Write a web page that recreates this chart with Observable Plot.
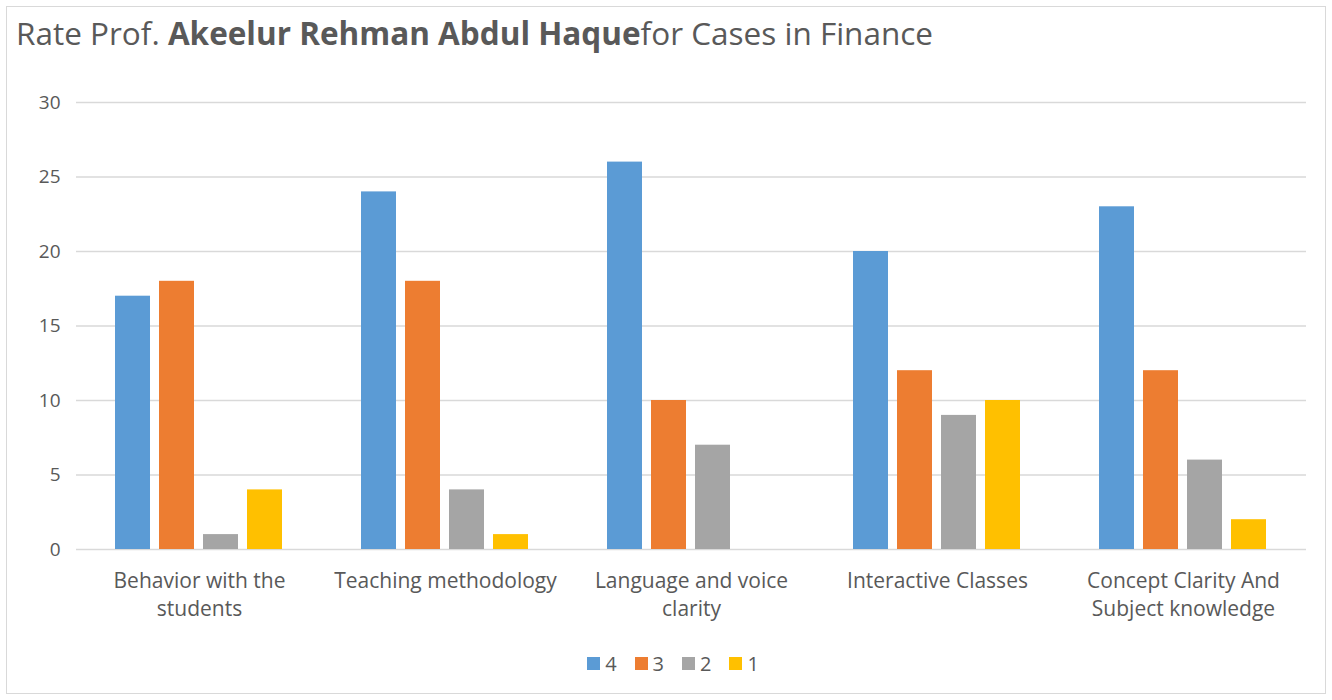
<!DOCTYPE html>
<html>
<head>
<meta charset="utf-8">
<script src="https://cdn.jsdelivr.net/npm/d3@7"></script>
<script src="https://cdn.jsdelivr.net/npm/@observablehq/plot@0.6"></script>
<style>
  html, body { margin: 0; padding: 0; background: #fff; }
  body { width: 1332px; height: 700px; position: relative; overflow: hidden; font-family: "Open Sans", sans-serif; color: #595959; }
  #frame { position: absolute; left: 6px; top: 6px; width: 1318px; height: 686px; border: 1.5px solid #d9d9d9; pointer-events: none; }
  #title { position: absolute; left: 16px; top: 14px; font-size: 31.5px; letter-spacing: 0px; white-space: pre; color: #595959; line-height: 1.2; }
  #title b { font-weight: 700; }
  #chart { position: absolute; left: 0; top: 70px; }
  #legend { position: absolute; left: 0; top: 650px; width: 1332px; display: flex; justify-content: center; align-items: center; gap: 18px; font-size: 20px; color: #595959; padding-left: 14px; box-sizing: border-box; }
  #legend span.item { display: flex; align-items: center; gap: 5px; }
  #legend span.sw { width: 13px; height: 13px; display: inline-block; }
</style>
</head>
<body>
<div id="title">Rate Prof. <b>Akeelur Rehman Abdul Haque</b>for Cases in Finance</div>
<div id="chart"></div>
<div id="legend"></div>
<div id="frame"></div>
<script>
const categories = ["Behavior with the students", "Teaching methodology", "Language and voice clarity", "Interactive Classes", "Concept Clarity And Subject knowledge"];
const categoryLabels = ["Behavior with the\nstudents", "Teaching methodology", "Language and voice\nclarity", "Interactive Classes", "Concept Clarity And\nSubject knowledge"];
const ratings = ["4", "3", "2", "1"];
const values4 = [17, 24, 26, 20, 23];
const values3 = [18, 18, 10, 12, 12];
const values2 = [1, 4, 7, 9, 6];
const values1 = [4, 1, 0, 10, 2];
const yTicks = [0, 5, 10, 15, 20, 25, 30];
const colors = ["#5B9BD5", "#ED7D31", "#A5A5A5", "#FFC000"];

const series = [values4, values3, values2, values1];
const data = [];
categories.forEach((c, i) => {
  ratings.forEach((r, j) => data.push({category: c, rating: r, value: series[j][i]}));
});
const labelOf = Object.fromEntries(categories.map((c, i) => [c, categoryLabels[i]]));

const plot = Plot.plot({
  width: 1332,
  height: 560,
  marginLeft: 76,
  marginRight: 26,
  marginTop: 32,
  marginBottom: 81,
  style: {fontFamily: "Open Sans", color: "#595959", background: "transparent"},
  fx: {domain: categories, paddingInner: 0, paddingOuter: 0, label: null, axis: null},
  x: {domain: ratings, paddingInner: 0.2, paddingOuter: 0.875, axis: null},
  y: {domain: [0, 30], label: null, axis: null},
  color: {domain: ratings, range: colors},
  marks: [
    Plot.gridY(yTicks, {stroke: "#d9d9d9", strokeOpacity: 1, strokeWidth: 1.5}),
    Plot.barY(data, {fx: "category", x: "rating", y: "value", fill: "rating"}),
    Plot.axisY(yTicks, {tickSize: 0, tickPadding: 16, fontSize: 19, label: null, fill: "#595959"}),
    Plot.axisFx({anchor: "bottom", tickSize: 0, tickPadding: 18, fontSize: 21, lineHeight: 1.36, label: null, tickFormat: d => labelOf[d], fill: "#595959"})
  ]
});
document.getElementById("chart").appendChild(plot);

const legend = document.getElementById("legend");
ratings.forEach((r, j) => {
  const item = document.createElement("span");
  item.className = "item";
  const sw = document.createElement("span");
  sw.className = "sw";
  sw.style.background = colors[j];
  item.appendChild(sw);
  item.appendChild(document.createTextNode(r));
  legend.appendChild(item);
});
</script>
</body>
</html>
